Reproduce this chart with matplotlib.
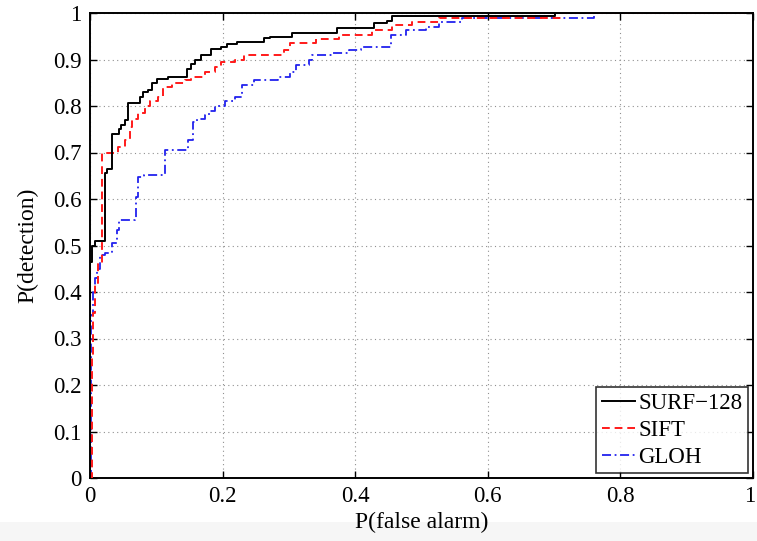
import matplotlib
matplotlib.use("Agg")
import matplotlib.pyplot as plt
from matplotlib.patches import Rectangle
from matplotlib.transforms import ScaledTranslation

# ---- Data: staircase ROC corner points (false alarm, detection) ----
surf_fa = [0.0, 0.0, 0.003, 0.008, 0.023, 0.023, 0.026, 0.033, 0.044, 0.047, 0.053,
           0.057, 0.075, 0.080, 0.087, 0.093, 0.101, 0.117, 0.147, 0.153, 0.158,
           0.168, 0.183, 0.198, 0.207, 0.221, 0.263, 0.271, 0.305, 0.373, 0.429,
           0.448, 0.456, 0.702, 1.0]
surf_pd = [0.0, 0.465, 0.50, 0.51, 0.52, 0.656, 0.665, 0.74, 0.75, 0.76, 0.77,
           0.806, 0.82, 0.83, 0.834, 0.85, 0.858, 0.862, 0.88, 0.89, 0.90,
           0.91, 0.922, 0.927, 0.933, 0.938, 0.946, 0.948, 0.957, 0.968, 0.978,
           0.983, 0.994, 1.0, 1.0]

sift_fa = [0.0, 0.003, 0.004, 0.0075, 0.012, 0.018, 0.042, 0.053, 0.060, 0.063, 0.072,
           0.083, 0.090, 0.102, 0.110, 0.123, 0.143, 0.153, 0.173, 0.188, 0.198,
           0.218, 0.233, 0.293, 0.301, 0.341, 0.376, 0.426, 0.456, 0.486, 0.526,
           0.600, 0.710, 1.0]
sift_pd = [0.0, 0.26, 0.355, 0.42, 0.46, 0.70, 0.712, 0.727, 0.755, 0.773, 0.785,
           0.80, 0.81, 0.82, 0.84, 0.85, 0.856, 0.862, 0.873, 0.884, 0.895,
           0.899, 0.91, 0.92, 0.935, 0.944, 0.953, 0.963, 0.974, 0.98, 0.989,
           0.99, 1.0, 1.0]

gloh_fa = [0.0, 0.002, 0.004, 0.0075, 0.011, 0.015, 0.023, 0.033, 0.040, 0.044, 0.068,
           0.069, 0.073, 0.081, 0.113, 0.148, 0.155, 0.162, 0.173, 0.180, 0.188,
           0.203, 0.218, 0.229, 0.248, 0.283, 0.301, 0.311, 0.331, 0.335, 0.365,
           0.391, 0.409, 0.454, 0.477, 0.507, 0.526, 0.561, 0.730, 0.760]
gloh_pd = [0.0, 0.35, 0.40, 0.43, 0.45, 0.48, 0.483, 0.505, 0.533, 0.555, 0.56,
           0.605, 0.647, 0.652, 0.705, 0.727, 0.766, 0.773, 0.78, 0.79, 0.80,
           0.81, 0.82, 0.845, 0.856, 0.862, 0.873, 0.888, 0.899, 0.91, 0.914,
           0.92, 0.927, 0.953, 0.963, 0.97, 0.98, 0.989, 0.99, 1.0]

series_labels = ["SURF\u2212128", "SIFT", "GLOH"]
x_ticks = [0, 0.2, 0.4, 0.6, 0.8, 1]
x_tick_labels = ["0", "0.2", "0.4", "0.6", "0.8", "1"]
y_ticks = [0, 0.1, 0.2, 0.3, 0.4, 0.5, 0.6, 0.7, 0.8, 0.9, 1]
y_tick_labels = ["0", "0.1", "0.2", "0.3", "0.4", "0.5", "0.6", "0.7", "0.8", "0.9", "1"]

plt.rcParams['font.family'] = ['Liberation Serif', 'DejaVu Serif']

fig = plt.figure(figsize=(7.57, 5.41), dpi=100)
fig.patch.set_facecolor('white')
fig.add_artist(Rectangle((0, 0), 1, 19 / 541, transform=fig.transFigure,
                         facecolor='#f6f6f6', edgecolor='none', zorder=-10))

ax = fig.add_axes([90 / 757, 63 / 541, 663 / 757, 465 / 541])

ax.plot(surf_fa, surf_pd, drawstyle='steps-post', color='black', lw=1.4,
        label=series_labels[0], zorder=4)
ax.plot(sift_fa, sift_pd, drawstyle='steps-post', color='#ff1a1a', lw=1.4,
        linestyle=(0, (4, 2.5)), label=series_labels[1], zorder=3)
ax.plot(gloh_fa, gloh_pd, drawstyle='steps-post', color='#2222ee', lw=1.3,
        linestyle=(0, (5, 2, 1, 2)), label=series_labels[2], zorder=2)

ax.set_xlim(0, 1)
ax.set_ylim(0, 1)
ax.set_xticks(x_ticks)
ax.set_xticklabels(x_tick_labels)
ax.set_yticks(y_ticks)
ax.set_yticklabels(y_tick_labels)
ax.tick_params(direction='in', length=5, width=1.0, labelsize=16.5, top=True, right=True,
               pad=6)
ax.grid(True, linestyle=(0, (1, 3)), color='#909090', linewidth=0.8)
for s in ax.spines.values():
    s.set_linewidth(1.4)
    s.set_color('black')

# keep the last x tick label inside the canvas
last = ax.get_xticklabels()[-1]
last.set_transform(last.get_transform() + ScaledTranslation(-3 / 100, 0, fig.dpi_scale_trans))

ax.set_xlabel("P(false alarm)", fontsize=17, labelpad=3)
ax.set_ylabel("P(detection)", fontsize=17)
ax.yaxis.set_label_coords(-0.078, 0.5)

leg = ax.legend(loc='lower right', fontsize=16.5, frameon=True, fancybox=False,
                edgecolor='black', handlelength=1.45, handletextpad=0.15,
                borderpad=0.25, labelspacing=0.25, borderaxespad=0.2)
leg.get_frame().set_linewidth(1.2)

fig.savefig("out.png", dpi=100)
